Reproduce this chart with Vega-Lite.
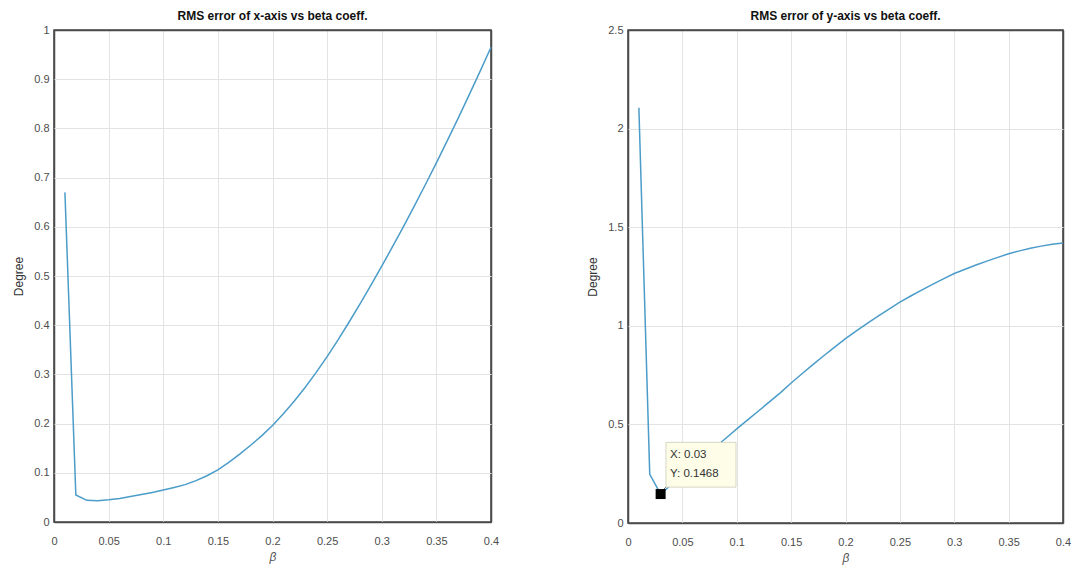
{
  "$schema": "https://vega.github.io/schema/vega-lite/v6.json",
  "background": "white",
  "padding": {"left": 11, "top": 9, "right": 5, "bottom": 5},
  "bounds": "flush",
  "spacing": 137,
  "config": {
    "font": "Liberation Sans",
    "view": {"stroke": "#4a4a4a", "strokeWidth": 1.6},
    "axis": {
      "grid": true, "gridWidth": 1,
      "domain": false, "ticks": false, "labelFlush": false,
      "labelFont": "Liberation Sans", "labelFontSize": 11, "labelColor": "#4d4d4d", "labelPadding": 5,
      "titleFont": "Liberation Sans", "titleFontSize": 12, "titleFontWeight": "normal", "titleColor": "#333333"
    },
    "axisX": {"labelPadding": 13},
    "title": {"font": "Liberation Sans", "fontSize": 12, "fontWeight": "bold", "color": "#111111", "offset": 1}
  },
  "datasets": {
    "xerr": [
      {"beta": 0.01, "rms": 0.67}, {"beta": 0.02, "rms": 0.055}, {"beta": 0.03, "rms": 0.044},
      {"beta": 0.04, "rms": 0.043}, {"beta": 0.05, "rms": 0.045}, {"beta": 0.06, "rms": 0.048},
      {"beta": 0.07, "rms": 0.052}, {"beta": 0.08, "rms": 0.056}, {"beta": 0.09, "rms": 0.06},
      {"beta": 0.10, "rms": 0.065}, {"beta": 0.11, "rms": 0.07}, {"beta": 0.12, "rms": 0.076},
      {"beta": 0.13, "rms": 0.084}, {"beta": 0.14, "rms": 0.094}, {"beta": 0.15, "rms": 0.106},
      {"beta": 0.16, "rms": 0.121}, {"beta": 0.17, "rms": 0.138}, {"beta": 0.18, "rms": 0.156},
      {"beta": 0.19, "rms": 0.175}, {"beta": 0.20, "rms": 0.196}, {"beta": 0.21, "rms": 0.22},
      {"beta": 0.22, "rms": 0.246}, {"beta": 0.23, "rms": 0.274}, {"beta": 0.24, "rms": 0.304},
      {"beta": 0.25, "rms": 0.336}, {"beta": 0.26, "rms": 0.37}, {"beta": 0.27, "rms": 0.406},
      {"beta": 0.28, "rms": 0.443}, {"beta": 0.29, "rms": 0.481}, {"beta": 0.30, "rms": 0.52},
      {"beta": 0.31, "rms": 0.56}, {"beta": 0.32, "rms": 0.601}, {"beta": 0.33, "rms": 0.643},
      {"beta": 0.34, "rms": 0.686}, {"beta": 0.35, "rms": 0.73}, {"beta": 0.36, "rms": 0.775},
      {"beta": 0.37, "rms": 0.821}, {"beta": 0.38, "rms": 0.868}, {"beta": 0.39, "rms": 0.916},
      {"beta": 0.40, "rms": 0.965}
    ],
    "yerr": [
      {"beta": 0.01, "rms": 2.106}, {"beta": 0.02, "rms": 0.247}, {"beta": 0.03, "rms": 0.1468},
      {"beta": 0.04, "rms": 0.195}, {"beta": 0.05, "rms": 0.242}, {"beta": 0.06, "rms": 0.29},
      {"beta": 0.07, "rms": 0.336}, {"beta": 0.08, "rms": 0.384}, {"beta": 0.09, "rms": 0.43},
      {"beta": 0.10, "rms": 0.477}, {"beta": 0.11, "rms": 0.523}, {"beta": 0.12, "rms": 0.568},
      {"beta": 0.13, "rms": 0.614}, {"beta": 0.14, "rms": 0.66}, {"beta": 0.15, "rms": 0.71},
      {"beta": 0.16, "rms": 0.757}, {"beta": 0.17, "rms": 0.803}, {"beta": 0.18, "rms": 0.848},
      {"beta": 0.19, "rms": 0.892}, {"beta": 0.20, "rms": 0.935}, {"beta": 0.21, "rms": 0.974},
      {"beta": 0.22, "rms": 1.012}, {"beta": 0.23, "rms": 1.049}, {"beta": 0.24, "rms": 1.085},
      {"beta": 0.25, "rms": 1.12}, {"beta": 0.26, "rms": 1.151}, {"beta": 0.27, "rms": 1.181},
      {"beta": 0.28, "rms": 1.21}, {"beta": 0.29, "rms": 1.238}, {"beta": 0.30, "rms": 1.265},
      {"beta": 0.31, "rms": 1.287}, {"beta": 0.32, "rms": 1.308}, {"beta": 0.33, "rms": 1.328},
      {"beta": 0.34, "rms": 1.347}, {"beta": 0.35, "rms": 1.365}, {"beta": 0.36, "rms": 1.38},
      {"beta": 0.37, "rms": 1.393}, {"beta": 0.38, "rms": 1.404}, {"beta": 0.39, "rms": 1.413},
      {"beta": 0.40, "rms": 1.42}
    ],
    "tipbox": [{"x1": 0.0349, "x2": 0.0993, "y1": 0.409, "y2": 0.182}],
    "tiplink": [{"x1": 0.0318, "x2": 0.0349, "y1": 0.165, "y2": 0.182}],
    "tippoint": [{"beta": 0.03, "rms": 0.1468}],
    "tiptext": [
      {"beta": 0.0386, "rms": 0.343, "label": "X: 0.03"},
      {"beta": 0.0386, "rms": 0.247, "label": "Y: 0.1468"}
    ]
  },
  "hconcat": [
    {
      "width": 437, "height": 492,
      "title": "RMS error of x-axis vs beta coeff.",
      "data": {"name": "xerr"},
      "mark": {"type": "line", "color": "#4b9cc9", "strokeWidth": 1.5},
      "encoding": {
        "x": {"field": "beta", "type": "quantitative",
          "scale": {"domain": [0, 0.4], "nice": false},
          "axis": {"title": "β", "titleFontStyle": "italic", "titleColor": "#555555", "titlePadding": 5, "format": "~g",
            "gridColor": {"condition": {"test": "datum.value <= 0 || datum.value >= 0.4", "value": "#4a4a4a"}, "value": "#e3e3e3"},
            "gridWidth": {"condition": {"test": "datum.value <= 0 || datum.value >= 0.4", "value": 1.5}, "value": 1},
            "values": [0, 0.05, 0.1, 0.15, 0.2, 0.25, 0.3, 0.35, 0.4]}},
        "y": {"field": "rms", "type": "quantitative",
          "scale": {"domain": [0, 1], "nice": false},
          "axis": {"title": "Degree", "titlePadding": 8, "format": "~g",
            "gridColor": {"condition": {"test": "datum.value <= 0 || datum.value >= 1", "value": "#4a4a4a"}, "value": "#e3e3e3"},
            "gridWidth": {"condition": {"test": "datum.value <= 0 || datum.value >= 1", "value": 1.5}, "value": 1},
            "values": [0, 0.1, 0.2, 0.3, 0.4, 0.5, 0.6, 0.7, 0.8, 0.9, 1]}}
      }
    },
    {
      "width": 435, "height": 493,
      "title": "RMS error of y-axis vs beta coeff.",
      "layer": [
        {
          "data": {"name": "yerr"},
          "mark": {"type": "line", "color": "#4b9cc9", "strokeWidth": 1.5},
          "encoding": {
            "x": {"field": "beta", "type": "quantitative",
              "scale": {"domain": [0, 0.4], "nice": false},
              "axis": {"title": "β", "titleFontStyle": "italic", "titleColor": "#555555", "titlePadding": 5, "format": "~g",
                "gridColor": {"condition": {"test": "datum.value <= 0 || datum.value >= 0.4", "value": "#4a4a4a"}, "value": "#e3e3e3"},
                "gridWidth": {"condition": {"test": "datum.value <= 0 || datum.value >= 0.4", "value": 1.5}, "value": 1},
                "values": [0, 0.05, 0.1, 0.15, 0.2, 0.25, 0.3, 0.35, 0.4]}},
            "y": {"field": "rms", "type": "quantitative",
              "scale": {"domain": [0, 2.5], "nice": false},
              "axis": {"title": "Degree", "titlePadding": 8, "format": "~g",
                "gridColor": {"condition": {"test": "datum.value <= 0 || datum.value >= 2.5", "value": "#4a4a4a"}, "value": "#e3e3e3"},
                "gridWidth": {"condition": {"test": "datum.value <= 0 || datum.value >= 2.5", "value": 1.5}, "value": 1},
                "values": [0, 0.5, 1, 1.5, 2, 2.5]}}
          }
        },
        {
          "data": {"name": "tiplink"},
          "mark": {"type": "rule", "color": "#333333", "strokeWidth": 0.8},
          "encoding": {
            "x": {"field": "x1", "type": "quantitative"},
            "x2": {"field": "x2"},
            "y": {"field": "y1", "type": "quantitative"},
            "y2": {"field": "y2"}
          }
        },
        {
          "data": {"name": "tipbox"},
          "mark": {"type": "rect", "fill": "#fdfde8", "stroke": "#d6d6c6", "strokeWidth": 1},
          "encoding": {
            "x": {"field": "x1", "type": "quantitative"},
            "x2": {"field": "x2"},
            "y": {"field": "y1", "type": "quantitative"},
            "y2": {"field": "y2"}
          }
        },
        {
          "data": {"name": "tippoint"},
          "mark": {"type": "square", "filled": true, "color": "#000000", "size": 100, "opacity": 1},
          "encoding": {
            "x": {"field": "beta", "type": "quantitative"},
            "y": {"field": "rms", "type": "quantitative"}
          }
        },
        {
          "data": {"name": "tiptext"},
          "mark": {"type": "text", "align": "left", "baseline": "middle", "fontSize": 11.5, "color": "#333333", "font": "Liberation Sans"},
          "encoding": {
            "x": {"field": "beta", "type": "quantitative"},
            "y": {"field": "rms", "type": "quantitative"},
            "text": {"field": "label"}
          }
        }
      ]
    }
  ]
}
